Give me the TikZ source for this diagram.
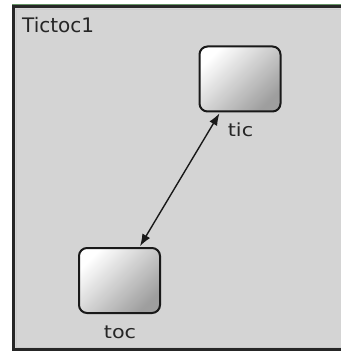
\documentclass[tikz,border=0pt]{standalone}
\usepackage{fontspec}
\usetikzlibrary{arrows.meta}
\setmainfont{DejaVu Sans}
\begin{document}
\begin{tikzpicture}[x=1pt,y=-1pt,
  module/.style={draw=black!90, line width=2pt, rounded corners=8pt,
    minimum width=81pt, minimum height=65pt, inner sep=0pt,
    top color=white, bottom color=black!38, shading angle=45},
  label/.style={font=\fontsize{18}{20}\selectfont, text=black!85, inner sep=0pt},
  link/.style={line width=1.4pt, black!90, {Latex[length=12pt,width=9pt]}-{Latex[length=12pt,width=9pt]}, shorten <=1pt, shorten >=1pt}
]
\useasboundingbox (0,0) rectangle (340,352);
% network frame
\fill[white] (0,0) rectangle (340,352);
\fill[black!17] (12,5) rectangle (346,351);
\draw[green!30!black!60, line width=1pt] (12,4.5) -- (346,4.5);
\draw[black!85, line width=3pt] (346,6.5) -- (13.5,6.5) -- (13.5,349.5) -- (346,349.5);
\draw[white!80!black, line width=0.8pt] (346,9) -- (16,9) -- (16,347) -- (346,347);
\node[anchor=base west, font=\fontsize{20}{22}\selectfont, text=black!85, inner sep=0pt] (title) at (22,33) {Tictoc1};
% submodules
\node[module] (tic) at (240,79) {};
\node[module] (toc) at (119.5,280.5) {};
\node[label, anchor=base] (ticlabel) at (240.5,137) {\scalebox{1.15}[1]{tic}};
\node[label, anchor=base] (toclabel) at (120,338) {\scalebox{1.15}[1]{toc}};
% connection
\draw[link] (tic) -- (toc);
\end{tikzpicture}
\end{document}
